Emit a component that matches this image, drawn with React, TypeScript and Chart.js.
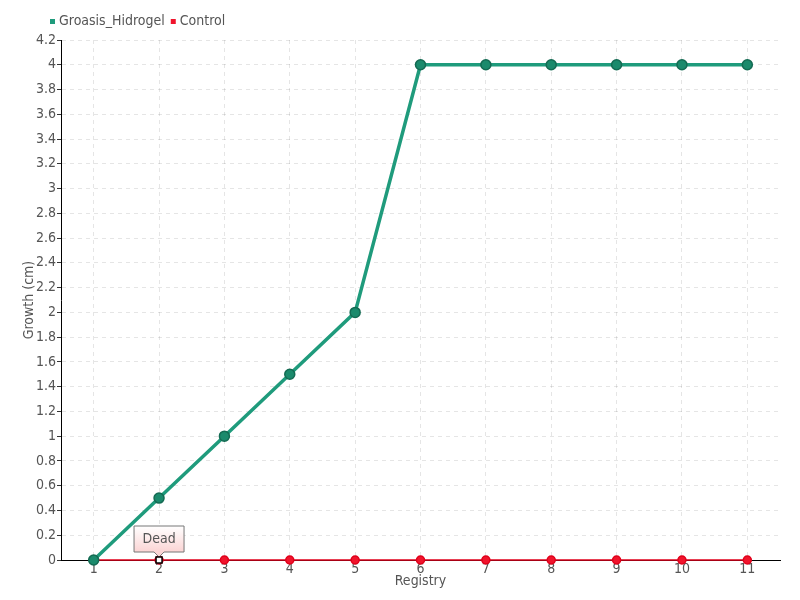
import React, { useEffect, useRef } from "react";
import { Chart, registerables } from "chart.js";

Chart.register(...registerables);

const categories = ["1", "2", "3", "4", "5", "6", "7", "8", "9", "10", "11"];
const groasisValues = [0, 0.5, 1, 1.5, 2, 4, 4, 4, 4, 4, 4];
const controlValues = [0, 0, 0, 0, 0, 0, 0, 0, 0, 0, 0];
const annotationIndex = 1;
const annotationText = "Dead";

const FAMILY = "'DejaVu Sans Condensed', 'DejaVu Sans', sans-serif";
const WEIGHT = "normal condensed";
const SIZE = 14;
const TEXT = "#555";
const fontSpec = { family: FAMILY, size: SIZE, weight: WEIGHT as any };
const fontString = `${WEIGHT} ${SIZE}px ${FAMILY}`;

const legendPlugin = {
  id: "customLegend",
  afterDraw(chart: any) {
    const ctx = chart.ctx;
    ctx.save();
    ctx.font = fontString;
    ctx.textBaseline = "middle";
    ctx.textAlign = "left";
    let x = 50;
    const y = 21;
    chart.data.datasets.forEach((ds: any) => {
      ctx.fillStyle = ds.backgroundColor;
      ctx.fillRect(x, y - 2, 5, 5);
      x += 9;
      ctx.fillStyle = TEXT;
      ctx.fillText(ds.label, x, y);
      x += ctx.measureText(ds.label).width + 6;
    });
    ctx.restore();
  },
};

const deadPlugin = {
  id: "deadLabel",
  afterDatasetsDraw(chart: any) {
    const meta = chart.getDatasetMeta(1);
    const pt = meta.data[annotationIndex];
    if (!pt) return;
    const ctx = chart.ctx;
    const x = pt.x, y = pt.y;
    const w = 50, h = 26, gap = 8;
    const left = x - w / 2, top = y - gap - h, bottom = y - gap;
    ctx.save();
    const g = ctx.createLinearGradient(0, top, 0, bottom);
    g.addColorStop(0, "#ffffff");
    g.addColorStop(1, "#fbd4d4");
    ctx.beginPath();
    ctx.moveTo(left, top);
    ctx.lineTo(left + w, top);
    ctx.lineTo(left + w, bottom);
    ctx.lineTo(x + 5, bottom);
    ctx.lineTo(x, bottom + 5);
    ctx.lineTo(x - 5, bottom);
    ctx.lineTo(left, bottom);
    ctx.closePath();
    ctx.fillStyle = g;
    ctx.fill();
    ctx.strokeStyle = "#777";
    ctx.lineWidth = 1;
    ctx.stroke();
    ctx.fillStyle = TEXT;
    ctx.font = fontString;
    ctx.textAlign = "center";
    ctx.textBaseline = "middle";
    ctx.fillText(annotationText, x, top + h / 2);
    ctx.fillStyle = "#fff";
    ctx.strokeStyle = "#000";
    ctx.lineWidth = 1.5;
    ctx.fillRect(x - 3, y - 3, 6, 6);
    ctx.strokeRect(x - 3, y - 3, 6, 6);
    ctx.restore();
  },
};

export default function App() {
  const ref = useRef<HTMLCanvasElement>(null);
  useEffect(() => {
    const canvas = ref.current!;
    const chart = new Chart(canvas, {
      type: "line",
      data: {
        labels: categories,
        datasets: [
          {
            label: "Groasis_Hidrogel",
            data: groasisValues,
            borderColor: "#1f9b7c",
            backgroundColor: "#1f9b7c",
            pointBackgroundColor: "#1b8a6c",
            pointBorderColor: "#146b53",
            pointBorderWidth: 1.5,
            pointRadius: 5,
            borderWidth: 3.5,
            tension: 0,
            clip: false as any,
          },
          {
            label: "Control",
            data: controlValues,
            borderColor: "#e0001b",
            backgroundColor: "#f0142c",
            pointBackgroundColor: "#f0142c",
            pointBorderColor: "#e0001b",
            pointRadius: 4,
            borderWidth: 1.5,
            tension: 0,
            clip: false as any,
          },
        ],
      },
      options: {
        responsive: false,
        animation: false,
        layout: { padding: { left: 21, right: 20, top: 40, bottom: 10 } },
        plugins: {
          tooltip: { enabled: false },
          legend: { display: false },
        },
        scales: {
          x: {
            offset: true,
            grid: {
              offset: false,
              color: "rgba(0,0,0,0.1)",
              drawTicks: false,
            },
            border: { color: "#000", width: 1, dash: [4, 4] } as any,
            ticks: { color: TEXT, font: fontSpec, padding: 1 },
            title: { display: true, text: "Registry", color: TEXT, font: fontSpec, padding: 0 },
            afterFit(scale: any) { scale.height = 30; },
          },
          y: {
            min: 0,
            max: 4.2,
            grid: {
              color: "rgba(0,0,0,0.1)",
              tickColor: "#333",
              tickLength: 4,
              tickBorderDash: [],
            } as any,
            border: { color: "#000", width: 1, dash: [4, 4] } as any,
            ticks: {
              stepSize: 0.2,
              color: TEXT,
              font: fontSpec,
              padding: 1,
              callback: (v: any) => String(Math.round(Number(v) * 10) / 10),
            },
            title: { display: true, text: "Growth (cm)", color: TEXT, font: fontSpec, padding: 0 },
            afterFit(scale: any) { scale.width = 40; },
          },
        },
      },
      plugins: [legendPlugin, deadPlugin],
    });
    return () => chart.destroy();
  }, []);
  return (
    <div style={{ position: "fixed", left: 0, top: 0, width: 800, height: 600, background: "#fff" }}>
      <canvas ref={ref} width={800} height={600} />
    </div>
  );
}
